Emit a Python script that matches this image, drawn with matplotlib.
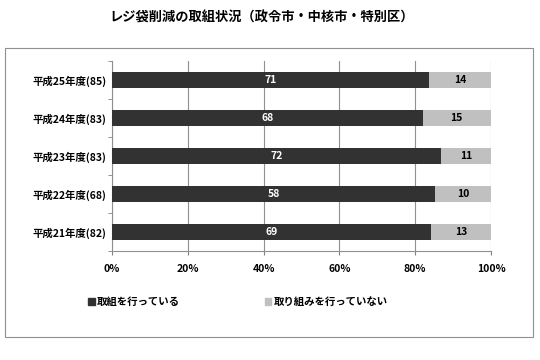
import matplotlib.pyplot as plt
import matplotlib.patches as mpatches
import numpy as np

plt.rcParams['font.family'] = ['Noto Sans CJK JP', 'DejaVu Sans']

years = ["平成25年度", "平成24年度", "平成23年度", "平成22年度", "平成21年度"]
totals = [85, 83, 83, 68, 82]
doing = [71, 68, 72, 58, 69]
not_doing = [14, 15, 11, 10, 13]

labels = [f"{y}({t})" for y, t in zip(years, totals)]
dark = "#323232"
light = "#c0c0c0"

fig = plt.figure(figsize=(5.4, 3.6), dpi=100)
# outer frame of the chart area
fig.patches.append(mpatches.Rectangle((5 / 540, 1 - 337 / 360), 528 / 540, 289 / 360,
                                      transform=fig.transFigure, fill=False,
                                      edgecolor="#909090", linewidth=0.8))
ax = fig.add_axes([112 / 540, 1 - 251 / 360, 379 / 540, 190 / 360])

d = np.array(doing, float)
n = np.array(not_doing, float)
tot = d + n
dp = d / tot * 100
npct = n / tot * 100
y = np.arange(len(labels))

ax.barh(y, dp, height=0.42, color=dark, zorder=3)
ax.barh(y, npct, left=dp, height=0.42, color=light, zorder=3)
for i in range(len(y)):
    ax.text(dp[i] / 2, y[i], str(doing[i]), ha="center", va="center",
            color="white", fontsize=7.5, fontweight="bold", zorder=4)
    ax.text(dp[i] + npct[i] / 2, y[i], str(not_doing[i]), ha="center", va="center",
            color="black", fontsize=7.5, fontweight="bold", zorder=4)

ax.set_xlim(0, 100)
ax.set_ylim(len(y) - 0.5, -0.5)
ax.set_xticks(np.arange(0, 101, 20))
ax.set_xticklabels([f"{v}%" for v in range(0, 101, 20)], fontsize=7.5, fontweight="bold")
ax.set_yticks(y)
ax.set_yticklabels(labels, fontsize=7.5, fontweight="bold")
ax.tick_params(axis="y", length=0, pad=4)
ax.set_yticks(np.arange(-0.5, len(y), 1), minor=True)
ax.tick_params(axis="y", which="minor", length=3, color="#808080")
ax.tick_params(axis="x", length=3, color="#808080", pad=6)
ax.grid(axis="x", color="#909090", linewidth=0.8, zorder=0)
for s in ["top", "right"]:
    ax.spines[s].set_visible(False)
ax.spines["left"].set_color("#909090")
ax.spines["bottom"].set_color("#909090")
ax.spines["bottom"].set_linestyle((0, (1, 1)))

fig.text(262 / 540, 1 - 18 / 360, "レジ袋削減の取組状況（政令市・中核市・特別区）",
         ha="center", va="center", fontsize=9.5, fontweight="bold")

handles = [mpatches.Patch(color=dark, label="取組を行っている"),
           mpatches.Patch(color=light, label="取り組みを行っていない")]
fig.legend(handles=handles, loc="center", bbox_to_anchor=(238 / 540, 1 - 302 / 360),
           ncol=2, frameon=False, handlelength=0.6, handleheight=0.6,
           handletextpad=0.2, columnspacing=8.2, prop={"weight": "bold", "size": 7.5})

fig.savefig("out.png", dpi=100)
